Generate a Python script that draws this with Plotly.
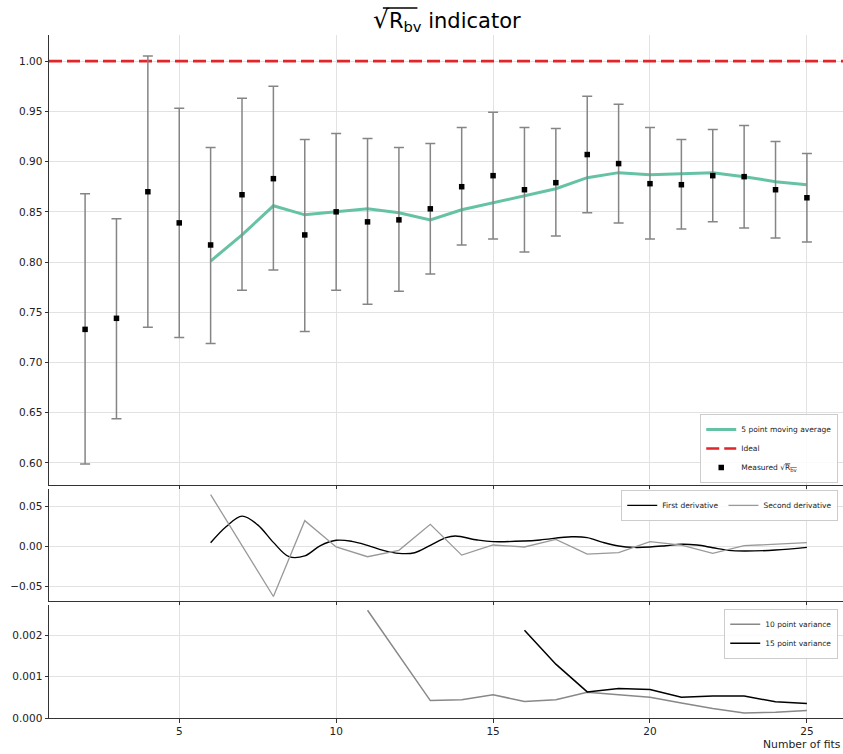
import plotly.graph_objects as go
from plotly.subplots import make_subplots

# ---------------- data ----------------
fits = list(range(2, 26))
measured = [0.733, 0.744, 0.870, 0.839, 0.817, 0.867, 0.883, 0.827, 0.850, 0.840, 0.842, 0.853,
            0.875, 0.886, 0.872, 0.879, 0.907, 0.898, 0.878, 0.877, 0.886, 0.885, 0.872, 0.864]
meas_top = [0.868, 0.843, 1.005, 0.953, 0.914, 0.963, 0.975, 0.922, 0.928, 0.923, 0.914, 0.918,
            0.934, 0.949, 0.934, 0.933, 0.965, 0.957, 0.934, 0.922, 0.932, 0.936, 0.920, 0.908]
meas_bot = [0.599, 0.644, 0.735, 0.725, 0.719, 0.772, 0.792, 0.731, 0.772, 0.758, 0.771, 0.788,
            0.817, 0.823, 0.810, 0.826, 0.849, 0.839, 0.823, 0.833, 0.840, 0.834, 0.824, 0.820]

ma_x = list(range(6, 26))
ma_vals = [0.801, 0.827, 0.856, 0.847, 0.850, 0.853, 0.849, 0.842, 0.852, 0.859,
           0.866, 0.873, 0.884, 0.889, 0.887, 0.888, 0.889, 0.885, 0.880, 0.877]

ideal = 1.0

d2_x = list(range(6, 26))
d2_vals = [0.065, 0.0016, -0.063, 0.0323, -0.0008, -0.013, -0.005, 0.0277, -0.011, 0.0017,
           -0.0008, 0.0088, -0.0097, -0.008, 0.0059, 0.0015, -0.0088, 0.0008, 0.0025, 0.0046]

d1_x = [6, 6.5, 7, 7.5, 8, 8.5, 9, 9.5, 10, 10.5, 11, 11.5, 12, 12.5, 13, 13.5, 13.8,
        14.5, 15, 16, 16.5, 17.5, 18, 18.5, 19, 19.5, 20, 20.5, 21, 21.5, 22, 22.5, 23, 24, 25]
d1_vals = [0.0046, 0.025, 0.038, 0.027, 0.005, -0.013, -0.012, 0.001, 0.0076,
           0.0063, 0.0013, -0.005, -0.0088, -0.008, 0.0013, 0.011, 0.013, 0.008, 0.0059,
           0.0067, 0.008, 0.012, 0.011, 0.005, 0.0004, -0.0013, -0.0008, 0.0008, 0.0027,
           0.0017, -0.0017, -0.005, -0.0059, -0.0046, -0.0013]

v10_x = list(range(11, 26))
v10_vals = [0.0026, 0.0015, 0.00042, 0.00044, 0.00056, 0.00040, 0.00044, 0.00062,
            0.00056, 0.00050, 0.00036, 0.00023, 0.00012, 0.00014, 0.00018]
v15_x = list(range(16, 26))
v15_vals = [0.00212, 0.0013, 0.00063, 0.00071, 0.00069, 0.00050, 0.00053, 0.00053,
            0.00039, 0.00035]

x_ticks = [5, 10, 15, 20, 25]

# ---------------- figure ----------------
FONT = "DejaVu Sans"
sqrt_rbv_legend = "√<span style='text-decoration:overline'>R<sub>bv</sub></span>"

fig = make_subplots(rows=3, cols=1, shared_xaxes=False, vertical_spacing=0.0)

err_plus = [t - m for t, m in zip(meas_top, measured)]
err_minus = [m - b for m, b in zip(measured, meas_bot)]

fig.add_trace(go.Scatter(
    x=ma_x, y=ma_vals, mode="lines", name="5 point moving average",
    line=dict(color="#66c2a5", width=3), legend="legend"), row=1, col=1)
fig.add_trace(go.Scatter(
    x=[0.85, 26.15], y=[ideal, ideal], mode="lines", name="Ideal",
    line=dict(color="#e0262a", width=2.6, dash="13px,5px"), legend="legend"), row=1, col=1)
fig.add_trace(go.Scatter(
    x=fits, y=measured, mode="markers", name="Measured " + sqrt_rbv_legend,
    marker=dict(symbol="square", size=5.5, color="black"),
    error_y=dict(type="data", symmetric=False, array=err_plus, arrayminus=err_minus,
                 color="#858585", thickness=1.5, width=5),
    legend="legend"), row=1, col=1)

fig.add_trace(go.Scatter(
    x=d1_x, y=d1_vals, mode="lines", name="First derivative",
    line=dict(color="black", width=1.4, shape="spline", smoothing=1.0), legend="legend2"), row=2, col=1)
fig.add_trace(go.Scatter(
    x=d2_x, y=d2_vals, mode="lines", name="Second derivative",
    line=dict(color="#999999", width=1.3), legend="legend2"), row=2, col=1)

fig.add_trace(go.Scatter(
    x=v10_x, y=v10_vals, mode="lines", name="10 point variance",
    line=dict(color="#888888", width=1.5), legend="legend3"), row=3, col=1)
fig.add_trace(go.Scatter(
    x=v15_x, y=v15_vals, mode="lines", name="15 point variance",
    line=dict(color="black", width=1.5), legend="legend3"), row=3, col=1)

axis_common = dict(showline=True, linecolor="#333333", linewidth=1, ticks="outside",
                   ticklen=3.5, tickwidth=1, tickcolor="#333333", showgrid=True,
                   gridcolor="#e2e2e2", gridwidth=1, zeroline=False,
                   tickfont=dict(family=FONT, size=10.5, color="#222222"))

domains = [[0.341, 1.0], [0.171, 0.335], [0.0, 0.165]]
yranges = [[0.578, 1.026], [-0.0689, 0.0718], [0.0, 0.00272]]
ytickvals = [[0.60, 0.65, 0.70, 0.75, 0.80, 0.85, 0.90, 0.95, 1.00],
             [-0.05, 0.0, 0.05],
             [0.0, 0.001, 0.002]]
yfmt = [".2f", ".2f", ".3f"]

for i in range(3):
    xa = "xaxis" if i == 0 else f"xaxis{i+1}"
    ya = "yaxis" if i == 0 else f"yaxis{i+1}"
    fig.layout[xa].update(range=[0.85, 26.15], tickvals=x_ticks,
                          showticklabels=(i == 2), **axis_common)
    if i > 0:
        fig.layout[xa].update(matches="x")
    fig.layout[ya].update(domain=domains[i], range=yranges[i], tickvals=ytickvals[i],
                          tickformat=yfmt[i], **axis_common)

legend_common = dict(bgcolor="rgba(255,255,255,0.85)", bordercolor="#cccccc", borderwidth=1,
                     font=dict(family=FONT, size=7.5, color="#222222"),
                     tracegroupgap=0, itemwidth=30)

fig.update_layout(
    width=843, height=754,
    margin=dict(l=49, r=0, t=35, b=36),
    plot_bgcolor="white", paper_bgcolor="white",
    title=dict(text="<span style='font-size:25px'>√</span>R<sub>bv</sub> indicator",
               x=0.530, xanchor="center", y=0.973, yanchor="middle",
               font=dict(family=FONT, size=21, color="black")),
    legend=dict(x=0.994, xanchor="right", y=0.344, yanchor="bottom", **legend_common),
    legend2=dict(x=0.994, xanchor="right", y=0.334, yanchor="top", orientation="h", **legend_common),
    legend3=dict(x=0.994, xanchor="right", y=0.160, yanchor="top", **legend_common),
    annotations=[dict(text="Number of fits", xref="paper", yref="paper", x=1.0, y=-0.026,
                      xanchor="right", yanchor="top", showarrow=False,
                      font=dict(family=FONT, size=10.8, color="#222222"))],
    shapes=[dict(type="line", xref="paper", yref="paper",
                 x0=0.4205, x1=0.4640, y0=1.0395, y1=1.0395,
                 line=dict(color="black", width=1.3))],
)

fig.write_html("out.html")
